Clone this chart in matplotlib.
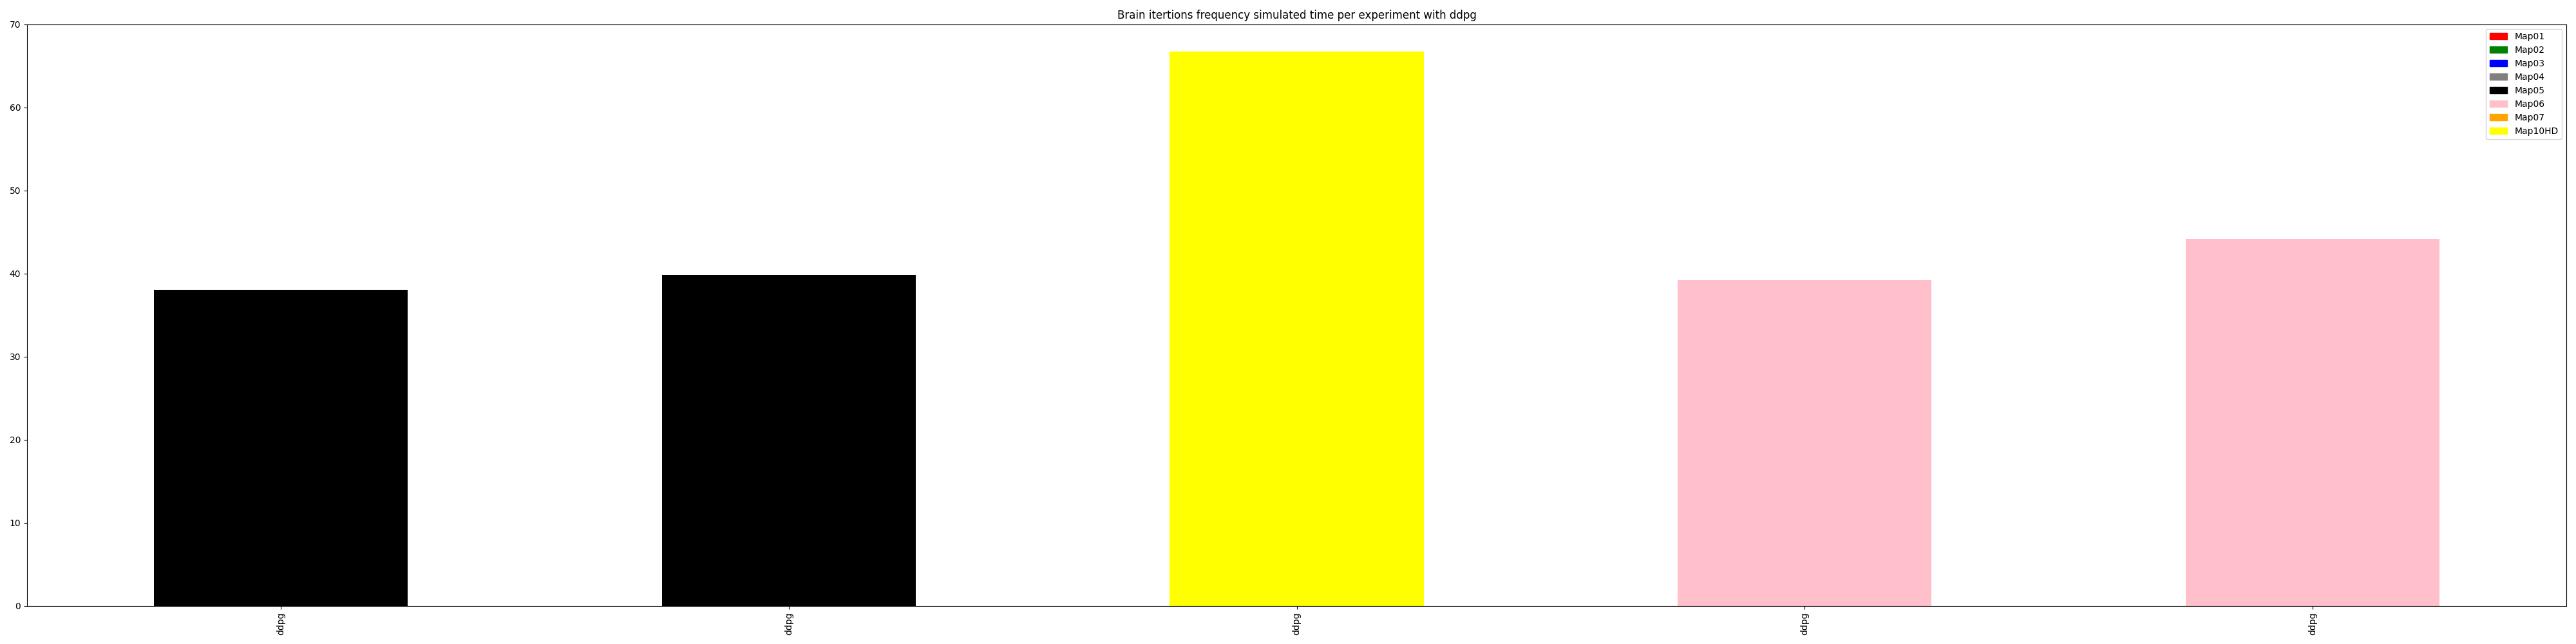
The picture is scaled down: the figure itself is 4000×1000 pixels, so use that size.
import matplotlib
matplotlib.use("Agg")
import matplotlib.pyplot as plt
from matplotlib.patches import Patch

# one bar per experiment, coloured by the map it ran on
experiments = ['ddpg', 'ddpg', 'ddpg', 'ddpg', 'ddpg']
maps = ['Map05', 'Map05', 'Map10HD', 'Map06', 'Map06']
frequency = [38.0, 39.8, 66.7, 39.2, 44.2]

map_names = ['Map01', 'Map02', 'Map03', 'Map04', 'Map05', 'Map06', 'Map07', 'Map10HD']
map_colors = ['red', 'green', 'blue', 'grey', 'black', 'pink', 'orange', 'yellow']


def main():
    colors = dict(zip(map_names, map_colors))
    fig, ax = plt.subplots(figsize=(40, 10), dpi=100)

    x = list(range(len(frequency)))
    ax.bar(x, frequency, width=0.5, color=[colors[m] for m in maps])
    ax.set_xticks(x)
    ax.set_xticklabels(experiments, rotation=90)
    ax.set_xlim(-0.5, len(frequency) - 0.5)
    ax.set_ylim(0, 70)
    ax.set_title('Brain itertions frequency simulated time per experiment with ddpg')

    handles = [Patch(color=colors[m], label=m) for m in map_names]
    ax.legend(handles=handles, loc='upper right')

    fig.subplots_adjust(left=0.0105, right=0.9963, top=0.9623, bottom=0.0593)
    fig.savefig('out.png')


if __name__ == "__main__":
    main()
